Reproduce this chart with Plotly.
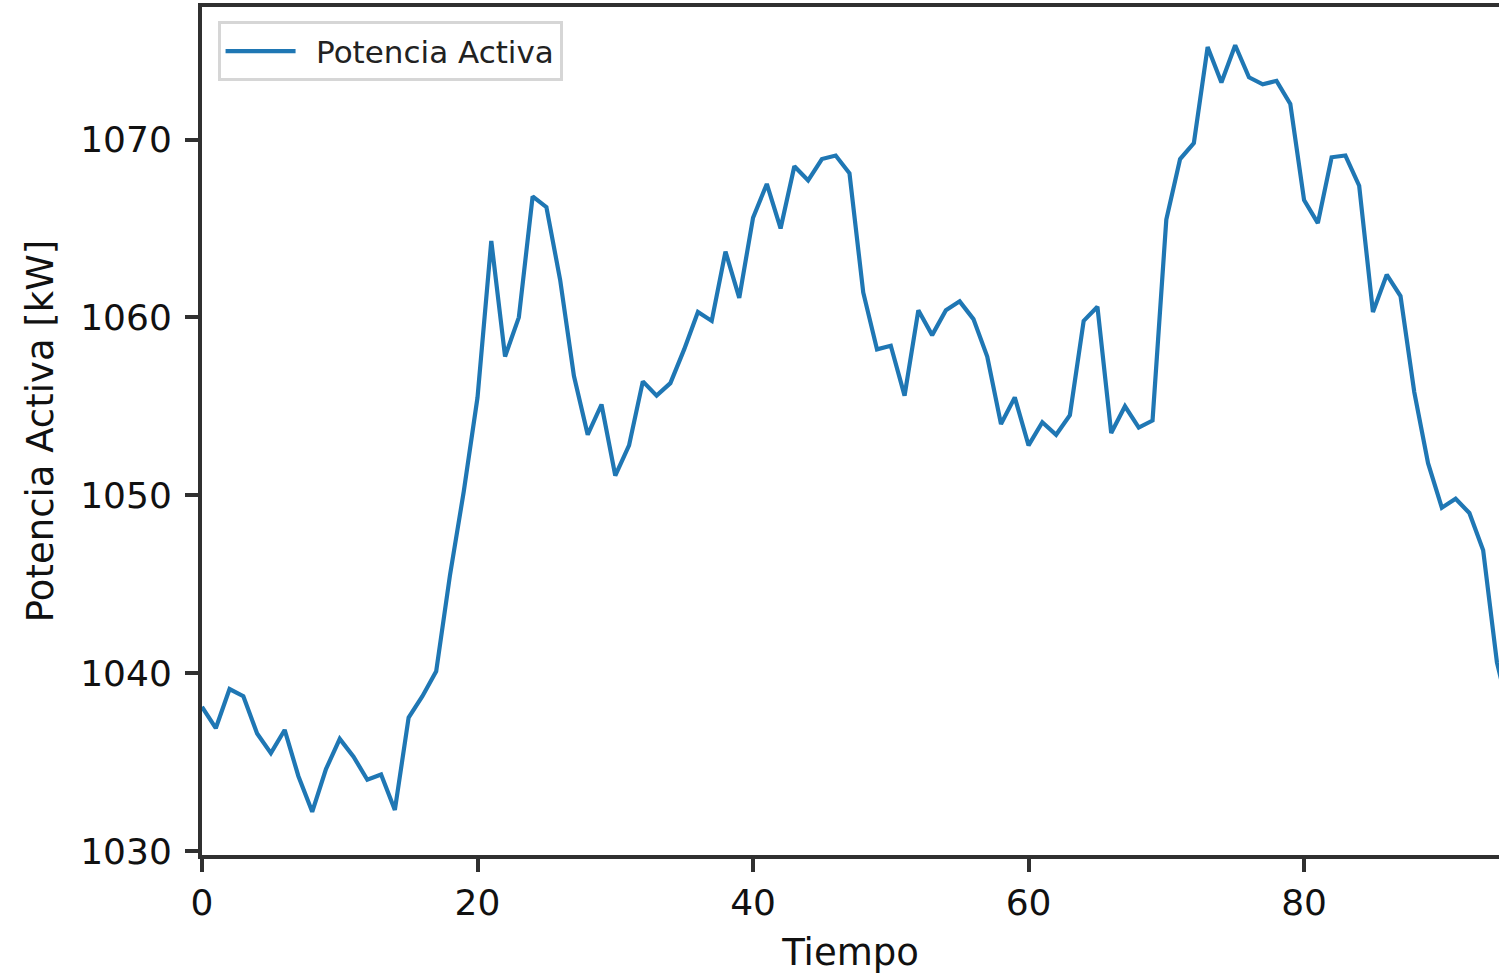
import plotly.graph_objects as go

tiempo = list(range(96))
potencia_activa = [
    1038.1, 1036.9, 1039.1, 1038.7, 1036.6, 1035.5, 1036.8, 1034.2, 1032.2, 1034.6,
    1036.3, 1035.3, 1034.0, 1034.3, 1032.3, 1037.5, 1038.7, 1040.1, 1045.5, 1050.2,
    1055.5, 1064.3, 1057.8, 1060.0, 1066.8, 1066.2, 1062.1, 1056.7, 1053.4, 1055.1,
    1051.1, 1052.8, 1056.4, 1055.6, 1056.3, 1058.2, 1060.3, 1059.8, 1063.7, 1061.1,
    1065.6, 1067.5, 1065.0, 1068.5, 1067.7, 1068.9, 1069.1, 1068.1, 1061.4, 1058.2,
    1058.4, 1055.6, 1060.4, 1059.0, 1060.4, 1060.9, 1059.9, 1057.8, 1054.0, 1055.5,
    1052.8, 1054.1, 1053.4, 1054.5, 1059.8, 1060.6, 1053.5, 1055.0, 1053.8, 1054.2,
    1065.5, 1068.9, 1069.8, 1075.2, 1073.2, 1075.3, 1073.5, 1073.1, 1073.3, 1072.0,
    1066.6, 1065.3, 1069.0, 1069.1, 1067.4, 1060.3, 1062.4, 1061.2, 1055.8, 1051.8,
    1049.3, 1049.8, 1049.0, 1046.9, 1040.6, 1037.4,
]
serie_nombre = "Potencia Activa"
x_titulo = "Tiempo"
y_titulo = "Potencia Activa [kW]"
y_ticks = [1030, 1040, 1050, 1060, 1070]
x_ticks = [0, 20, 40, 60, 80]

fig = go.Figure()
fig.add_trace(go.Scatter(
    x=tiempo, y=potencia_activa, mode="lines", name="\u2002" + serie_nombre,
    line=dict(color="#1f77b4", width=4.2),
))

font_family = "DejaVu Sans"
fig.update_layout(
    width=1499, height=976,
    margin=dict(l=202, r=0, t=7, b=121, pad=0),
    paper_bgcolor="white", plot_bgcolor="white",
    font=dict(family=font_family, color="#111111"),
    showlegend=True,
    legend=dict(
        x=0.012, y=0.983, xanchor="left", yanchor="top",
        bgcolor="white", bordercolor="#d6d6d6", borderwidth=3,
        font=dict(size=31, family=font_family, color="#222222"),
        itemwidth=70,
    ),
)
fig.update_xaxes(
    range=[0, 94.15], tickvals=x_ticks, ticktext=[str(v) for v in x_ticks],
    showgrid=False, zeroline=False,
    showline=True, linecolor="#303030", linewidth=4, mirror=True,
    ticks="outside", ticklen=13, tickwidth=4, tickcolor="#303030",
    tickfont=dict(size=36, family=font_family, color="#111111"),
    title=dict(text=x_titulo, font=dict(size=37, family=font_family, color="#111111"), standoff=18),
)
fig.update_yaxes(
    range=[1029.77, 1077.45], tickvals=y_ticks, ticktext=[str(v) for v in y_ticks],
    showgrid=False, zeroline=False,
    showline=True, linecolor="#303030", linewidth=4, mirror=False,
    ticks="outside", ticklen=13, tickwidth=4, tickcolor="#303030",
    ticklabelstandoff=6,
    tickfont=dict(size=36, family=font_family, color="#111111"),
    title=dict(text=y_titulo, font=dict(size=37, family=font_family, color="#111111"), standoff=16),
)

fig.write_html(
    "out.html",
    config={"displayModeBar": False},
    post_script="document.body.style.margin='0';document.body.style.overflow='hidden';",
)
